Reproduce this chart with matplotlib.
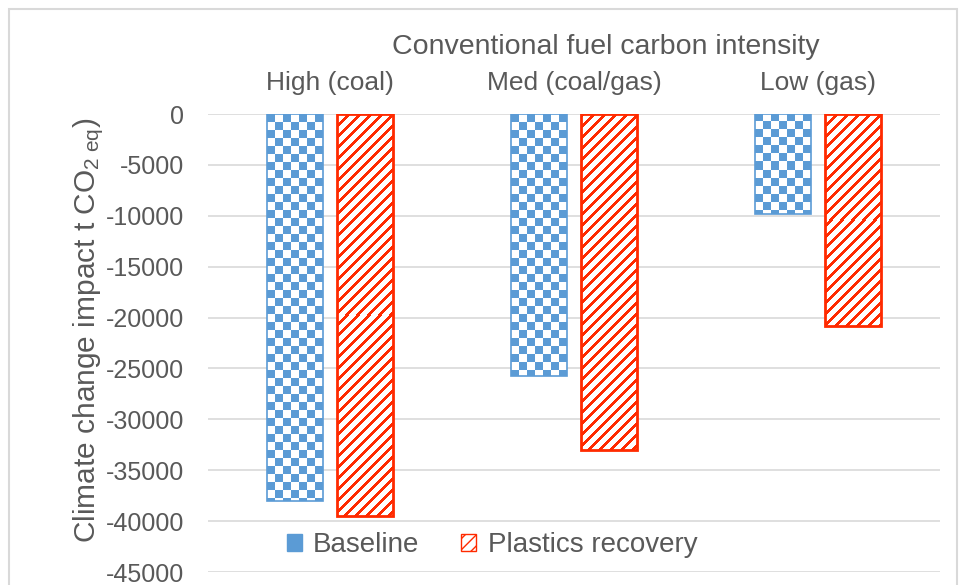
import numpy as np
import matplotlib.pyplot as plt
from matplotlib.patches import Patch, Rectangle

plt.rcParams['font.family'] = ['Liberation Sans', 'DejaVu Sans']
plt.rcParams['mathtext.fontset'] = 'custom'
plt.rcParams['mathtext.rm'] = 'Liberation Sans'
plt.rcParams['mathtext.it'] = 'Liberation Sans'

categories = ["High (coal)", "Med (coal/gas)", "Low (gas)"]
baseline = [-38000, -25700, -9850]
plastics_recovery = [-39500, -33000, -20850]
yticks = [0, -5000, -10000, -15000, -20000, -25000, -30000, -35000, -40000, -45000]

BLUE = "#5B9BD5"
RED = "#FF2A00"
TEXT = "#595959"
GRID = "#D9D9D9"


def checker(h, w, cell=8):
    r, c = np.indices((h, w))
    on = ((r // cell) + (c // cell)) % 2 == 0
    img = np.ones((h, w, 3))
    img[on] = [0x5B / 255, 0x9B / 255, 0xD5 / 255]
    return img


def stripes(h, w, period=11, width=4):
    r, c = np.indices((h, w))
    on = (r + c) % period < width
    img = np.ones((h, w, 3))
    img[on] = [1.0, 0x2A / 255, 0.0]
    return img


def fill_bars(ax, bars, pattern):
    for b in bars:
        x0, y0 = b.get_x(), min(b.get_y(), b.get_y() + b.get_height())
        x1, y1 = x0 + b.get_width(), max(b.get_y(), b.get_y() + b.get_height())
        (px0, py0), (px1, py1) = ax.transData.transform([(x0, y0), (x1, y1)])
        w = max(int(round(px1 - px0)), 1)
        h = max(int(round(py1 - py0)), 1)
        im = ax.imshow(pattern(h, w), extent=[x0, x1, y0, y1], origin="upper",
                       interpolation="nearest", aspect="auto", zorder=2)
        im.set_clip_path(b)


fig = plt.figure(figsize=(9.59, 5.85), dpi=100)
ax = fig.add_axes([208 / 959, 1 - 572 / 585, 732 / 959, 458 / 585])

x = np.arange(len(categories))
bw = 0.229
off = 0.143
b1 = ax.bar(x - off, baseline, bw, facecolor="none", edgecolor=BLUE,
            linewidth=1.2, zorder=3)
b2 = ax.bar(x + off, plastics_recovery, bw, facecolor="none", edgecolor=RED,
            linewidth=2, zorder=3)

ax.set_xlim(-0.5, 2.5)
ax.set_ylim(-45000, 0)
fill_bars(ax, b1, checker)
fill_bars(ax, b2, stripes)

ax.set_yticks(yticks)
ax.set_yticklabels([str(v) for v in yticks])
ax.yaxis.grid(True, color=GRID, linewidth=1.2)
ax.set_axisbelow(True)
for s in ax.spines.values():
    s.set_visible(False)
ax.tick_params(axis="y", length=0, pad=17, labelsize=18, labelcolor=TEXT)

ax.xaxis.tick_top()
ax.set_xticks(x)
ax.set_xticklabels(categories)
ax.tick_params(axis="x", length=0, pad=14, labelsize=19, labelcolor=TEXT)

ax.set_ylabel(r"Climate change impact t CO$_{2\ \mathrm{eq}}$)", fontsize=21.5,
              color=TEXT)
ax.yaxis.set_label_coords(-0.139, 0.528)

fig.text(606 / 959, 1 - 47 / 585, "Conventional fuel carbon intensity",
         ha="center", va="center", fontsize=20.5, color=TEXT)

handles = [Patch(facecolor=BLUE, edgecolor=BLUE),
           Patch(facecolor="white", edgecolor=RED, hatch="///")]
leg = fig.legend(handles, ["Baseline", "Plastics recovery"], loc="center",
                 bbox_to_anchor=(492 / 959, 1 - 545 / 585), ncol=2, frameon=False,
                 fontsize=20, handlelength=0.55, handleheight=0.55, handletextpad=0.4,
                 columnspacing=1.5, labelcolor=TEXT)

# outer chart border
fig.patches.append(Rectangle((9 / 959, -0.1), 948 / 959, 1.1 - 9 / 585,
                             transform=fig.transFigure, fill=False,
                             edgecolor=GRID, linewidth=1.5))

fig.savefig("out.png", dpi=100)
